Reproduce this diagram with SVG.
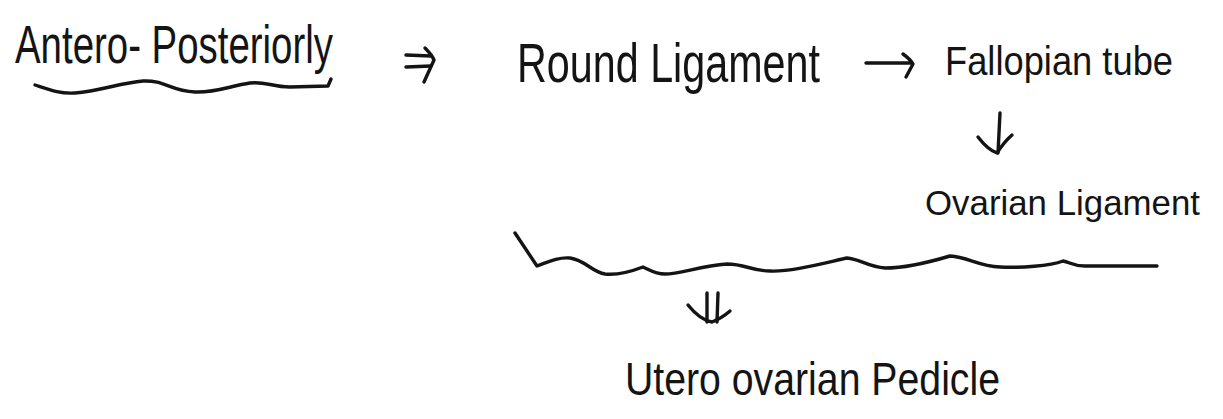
<svg xmlns="http://www.w3.org/2000/svg" width="1223" height="419" viewBox="0 0 1223 419">
  <style>
    .t { font-family: "Liberation Sans", Arial, sans-serif; fill: #141414; }
    .ln { fill: none; stroke: #141414; stroke-width: 3.4; stroke-linecap: round; stroke-linejoin: round; }
  </style>
  <rect x="0" y="0" width="1223" height="419" fill="#ffffff"/>

  <g id="node-antero-posteriorly">
    <text class="t" x="15" y="63" font-size="54" textLength="318" lengthAdjust="spacingAndGlyphs">Antero- Posteriorly</text>
    <path class="ln" d="M35,85 C50,90 60,94 75,93 C100,91 120,83 143,81 C165,80 170,91 195,92 C215,93 230,86 250,83 C265,81 272,87 290,87 L328,86 L331,79"/>
  </g>

  <g id="node-round-ligament">
    <text class="t" x="517" y="82" font-size="56" textLength="303" lengthAdjust="spacingAndGlyphs">Round Ligament</text>
  </g>

  <g id="node-fallopian-tube">
    <text class="t" x="945" y="75" font-size="40" textLength="228" lengthAdjust="spacingAndGlyphs">Fallopian tube</text>
  </g>

  <g id="node-ovarian-ligament">
    <text class="t" x="925" y="215" font-size="35" textLength="275" lengthAdjust="spacingAndGlyphs">Ovarian Ligament</text>
  </g>

  <g id="node-brace">
    <path class="ln" d="M515,233 L537,266 C548,262 558,257 570,258 C585,260 592,272 605,274 C615,275 630,272 643,267 C650,270 655,274 665,274 C680,274 700,266 727,264 C745,264 752,271 770,271 C790,272 820,264 847,258 C860,259 868,267 885,268 C905,268 930,262 950,256 C968,257 978,266 1000,267 C1020,268 1050,266 1063,261 C1070,262 1072,266 1085,266 L1157,266"/>
  </g>

  <g id="node-utero-ovarian-pedicle">
    <text class="t" x="625" y="395" font-size="46" textLength="375" lengthAdjust="spacingAndGlyphs">Utero ovarian Pedicle</text>
  </g>

  <g id="connectors">
    <!-- double arrow right -->
    <path class="ln" d="M406,55 L431,56"/>
    <path class="ln" d="M406,67 L431,66"/>
    <path class="ln" d="M425,48 Q432,55 434,60 L424,82"/>
    <!-- single arrow right -->
    <path class="ln" d="M866,63 L912,63"/>
    <path class="ln" d="M903,54 Q910,59 913,64 L906,77"/>
    <!-- arrow down -->
    <path class="ln" d="M1000,113 L998,153"/>
    <path class="ln" d="M978,137 Q988,150 997,153 Q1004,142 1012,135"/>
    <!-- double arrow down -->
    <path class="ln" d="M707,293 L707,322"/>
    <path class="ln" d="M718,293 L717,322"/>
    <path class="ln" d="M688,305 Q700,320 712,322 Q722,318 730,311"/>
  </g>
</svg>
